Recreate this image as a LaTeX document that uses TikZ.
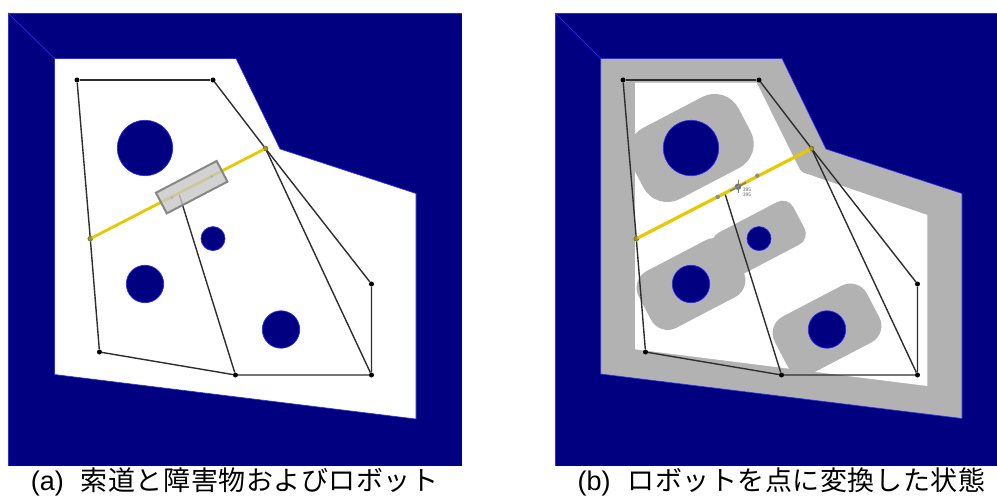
\documentclass[tikz,border=0pt]{standalone}
\usepackage{fontspec}
\setmainfont{Liberation Sans}
\newfontfamily\cjkjp{Noto Sans CJK JP}
\definecolor{navyfill}{HTML}{000080}
\definecolor{edgeblue}{HTML}{2A2AF0}
\definecolor{cspace}{HTML}{B2B2B2}
\definecolor{roadyellow}{HTML}{E8C800}
\definecolor{wire}{HTML}{2E2E2E}
\tikzset{
  freearea/.style={fill=white,draw=edgeblue,line width=0.6bp,line join=miter},
  obstacle/.style={circle,fill=navyfill,draw=edgeblue,line width=0.7bp,inner sep=0pt,minimum size=#1},
  blob/.style={rectangle,fill=cspace,inner sep=0pt,rotate=27.6},
  vertexdot/.style={circle,fill=black,inner sep=0pt,minimum size=5bp},
  endpoint/.style={circle,fill=roadyellow!75!black,draw=black!70,line width=0.3bp,inner sep=0pt,minimum size=5bp},
  junction/.style={circle,fill=wire,inner sep=0pt,minimum size=1.5bp},
  wireline/.style={draw=wire,line width=1.4bp},
  roadline/.style={draw=roadyellow,line width=#1,line cap=round},
  capt/.style={anchor=base west,inner sep=0pt,font=\fontsize{27.1pt}{30pt}\selectfont},
}
\newcommand{\capline}[3]{#1\hspace{#2}{\cjkjp\addfontfeatures{LetterSpace=2}#3}}
\newcommand{\drawgraph}[1]{%
  \node[endpoint] (C) at (265.5,148.5) {};
  \node[endpoint] (D) at (90.3,238.7) {};
  \node[vertexdot] (A) at (77,80) {};
  \node[vertexdot] (B) at (213,80) {};
  \node[vertexdot] (E) at (99.5,352) {};
  \node[vertexdot] (F) at (235.5,375) {};
  \node[vertexdot] (G) at (371.5,375) {};
  \node[vertexdot] (H) at (371.5,284) {};
  \node[junction] (J) at (179,193.7) {};
  \draw[roadline=#1] (D) -- (C);
  \draw[wireline] (A) -- (B);
  \draw[wireline] (A) -- (D) -- (E) -- (F) -- (G) -- (H);
  \draw[wireline] (B) -- (C) -- (H);
  \draw[wireline] (C) -- (G);
  \draw[wireline] (F) -- (J);
}
\newcommand{\obstacles}{%
  \node[obstacle=55.4bp] (o1) at (145,148) {};
  \node[obstacle=37.4bp] (o2) at (145,284) {};
  \node[obstacle=37.4bp] (o3) at (281,329.5) {};
  \node[obstacle=24bp] (o4) at (213,238.6) {};
}
\begin{document}
\begin{tikzpicture}[x=1bp,y=-1bp]
\useasboundingbox (0,0) rectangle (997,500);
% panel a
\fill[navyfill] (8,13) rectangle (462,466);
\draw[edgeblue,line width=0.7bp] (8,466) -- (8,13) -- (462,13);
\draw[freearea] (54.5,58.5) -- (236,58.5) -- (280,149) -- (416,193.5) -- (416,419) -- (54.5,374.5) -- cycle;
\coordinate (acorner) at (8,13);
\coordinate (ainner) at (54.5,58.5);
\draw[edgeblue,line width=0.7bp] (acorner) -- (ainner);
\begin{scope}[name prefix=a-]
  \obstacles
  \drawgraph{2.8bp}
  \node[rectangle,draw=black!47,fill=black!22,fill opacity=0.8,line width=2bp,inner sep=0pt,minimum width=68.5bp,minimum height=23.3bp,rotate=27.6] (robot) at (191.7,187.2) {};
  \node[circle,fill=black!30,inner sep=0pt,minimum size=3bp] (rp1) at (172,197.7) {};
  \node[circle,fill=black!30,inner sep=0pt,minimum size=3bp] (rp2) at (211.5,176.5) {};
\end{scope}
\node[capt] (capa) at (30.7,490.5) {\capline{(a)}{17bp}{索道と障害物およびロボット}};
% panel b
\fill[navyfill] (555,13) rectangle (997,466);
\draw[edgeblue,line width=0.7bp] (555,13) -- (997,13);
\draw[edgeblue,line width=0.7bp] (555,13) -- (555,466);
\draw[freearea,fill=cspace] (600.7,58.5) -- (782,58.5) -- (826,149) -- (962,193.5) -- (962,418.5) -- (600.7,374) -- cycle;
\fill[white] (635,82.7) -- (756.7,82.7) -- (800,170) -- (803,172.5) -- (927.3,215) -- (927.3,386) -- (635,349.3) -- cycle;
\coordinate (bcorner) at (555,13);
\coordinate (binner) at (600.7,58.5);
\draw[edgeblue,line width=0.7bp] (bcorner) -- (binner);
\begin{scope}[xshift=546bp,name prefix=b-]
  \node[blob,minimum width=121bp,minimum height=80bp,rounded corners=27bp] (s1) at (145,148) {};
  \node[blob,minimum width=104bp,minimum height=64bp,rounded corners=18.7bp] (s2) at (145,284) {};
  \node[blob,minimum width=104bp,minimum height=64bp,rounded corners=18.7bp] (s3) at (281,329.5) {};
  \node[blob,minimum width=90bp,minimum height=48bp,rounded corners=12bp] (s4) at (213,238.6) {};
  \obstacles
  \drawgraph{3.2bp}
  \node[circle,fill=black!45,inner sep=0pt,minimum size=4.5bp] (rp1) at (171.7,197) {};
  \node[circle,fill=black!45,inner sep=0pt,minimum size=4.5bp] (rp2) at (211.3,175.7) {};
  \node[circle,fill=black!55,inner sep=0pt,minimum size=6.5bp] (cen) at (192,186.7) {};
  \coordinate (ct) at (192,180);
  \coordinate (cb) at (192,193);
  \coordinate (cl) at (184,191);
  \coordinate (cr) at (200,182.5);
  \draw[black!50,line width=0.8bp] (ct) -- (cb);
  \draw[black!50,line width=1.6bp] (cl) -- (cr);
  \node[inner sep=0pt,text=black!60,font=\fontsize{5pt}{5pt}\selectfont] (t1) at (201,189.3) {395};
  \node[inner sep=0pt,text=black!60,font=\fontsize{5pt}{5pt}\selectfont] (t2) at (201,195) {395};
\end{scope}
\node[capt] (capb) at (577.5,490.5) {\capline{(b)}{17bp}{ロボットを点に変換した状態}};
\end{tikzpicture}
\end{document}
